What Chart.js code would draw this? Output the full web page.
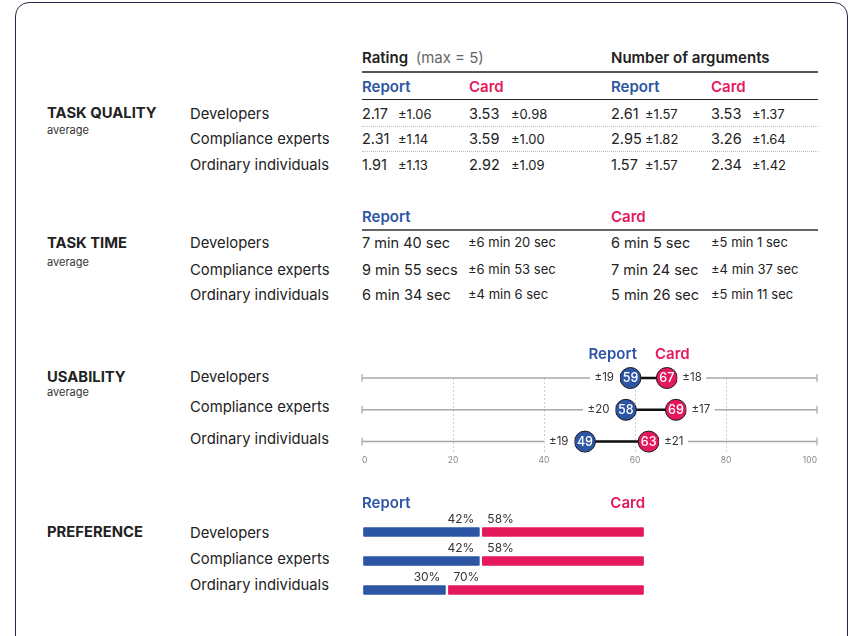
<!DOCTYPE html>
<html>
<head>
<meta charset="utf-8">
<script src="https://cdn.jsdelivr.net/npm/chart.js@4.4.0/dist/chart.umd.min.js"></script>
<style>
  body { margin: 0; width: 853px; height: 636px; overflow: hidden; background: #fff;
         font-family: Inter, "Noto Sans", sans-serif; color: #222; position: relative; }
  .frame { position: absolute; left: 15px; top: 2px; width: 833px; height: 660px;
           border: 1.5px solid #222b4a; border-radius: 14px; box-sizing: border-box; }
  .t { position: absolute; white-space: nowrap; line-height: 1; transform: translateY(-50%); }
  .r { transform: translate(-100%, -50%); }
  .sec { font-weight: 700; font-size: 14.8px; }
  .sub { font-size: 11px; color: #333; }
  .grp { font-size: 14.8px; }
  .val { font-size: 14.5px; }
  .sd { font-size: 13px; }
  .head { font-size: 15px; font-weight: 600; }
  .blue { color: #2c56a4; font-weight: 600; font-size: 15px; }
  .red { color: #e3195b; font-weight: 600; font-size: 15px; }
  .rule { position: absolute; left: 362px; width: 456px; }
  canvas { position: absolute; }
</style>
</head>
<body>
<div class="frame"></div>
<canvas id="usability" width="500" height="145" style="left:340px;top:330px"></canvas>
<canvas id="preference" width="330" height="100" style="left:340px;top:510px"></canvas>
<script>
const BLUE = '#2c56a4';
const RED = '#e3195b';

const groups = ['Developers', 'Compliance experts', 'Ordinary individuals'];

const ratingReport = [2.17, 2.31, 1.91];
const ratingReportSd = [1.06, 1.14, 1.13];
const ratingCard = [3.53, 3.59, 2.92];
const ratingCardSd = [0.98, 1.00, 1.09];

const argsReport = [2.61, 2.95, 1.57];
const argsReportSd = [1.57, 1.82, 1.57];
const argsCard = [3.53, 3.26, 2.34];
const argsCardSd = [1.37, 1.64, 1.42];

const timeReport = ['7 min 40 sec', '9 min 55 secs', '6 min 34 sec'];
const timeReportSd = ['6 min 20 sec', '6 min 53 sec', '4 min 6 sec'];
const timeCard = ['6 min 5 sec', '7 min 24 sec', '5 min 26 sec'];
const timeCardSd = ['5 min 1 sec', '4 min 37 sec', '5 min 11 sec'];

const usabilityReport = [59, 58, 49];
const usabilityReportSd = [19, 20, 19];
const usabilityCard = [67, 69, 63];
const usabilityCardSd = [18, 17, 21];
const usabilityTicks = [0, 20, 40, 60, 80, 100];

const prefReport = [42, 42, 30];
const prefCard = [58, 58, 70];

function put(html, x, y, cls, right) {
    const d = document.createElement('div');
    d.className = 't ' + cls + (right ? ' r' : '');
    d.style.left = x + 'px';
    d.style.top = y + 'px';
    d.innerHTML = html;
    document.body.appendChild(d);
}

function rule(y, h, style) {
    const d = document.createElement('div');
    d.className = 'rule';
    d.style.top = y + 'px';
    d.style.borderTop = h + 'px ' + style;
    document.body.appendChild(d);
}

// section titles
put('TASK QUALITY', 47, 113, 'sec');
put('average', 47, 130, 'sub');
put('TASK TIME', 47, 243, 'sec');
put('average', 47, 262, 'sub');
put('USABILITY', 47, 377, 'sec');
put('average', 47, 392, 'sub');
put('PREFERENCE', 47, 532, 'sec');

// group labels
const qualityRows = [114, 139, 165];
const timeRows = [243, 270, 295];
const usabilityRows = [377, 407, 439];
const prefRows = [533, 559, 585];
[qualityRows, timeRows, usabilityRows, prefRows].forEach(rows => {
    groups.forEach((g, i) => put(g, 190, rows[i], 'grp'));
});

// task quality table
put('Rating&nbsp; <span style="font-weight:400;color:#666">(max = 5)</span>', 362, 57, 'head');
put('Number of arguments', 611, 57, 'head');
rule(71, 2, 'solid #555');
put('Report', 362, 86, 'blue');
put('Card', 469, 86, 'red');
put('Report', 611, 86, 'blue');
put('Card', 711, 86, 'red');
rule(99, 1.5, 'solid #222');
rule(125.5, 1, 'dotted #bbb');
rule(151, 1, 'dotted #bbb');
groups.forEach((g, i) => {
    const y = qualityRows[i];
    put(ratingReport[i].toFixed(2), 362, y, 'val');
    put('±' + ratingReportSd[i].toFixed(2), 398, y, 'sd');
    put(ratingCard[i].toFixed(2), 469, y, 'val');
    put('±' + ratingCardSd[i].toFixed(2), 511, y, 'sd');
    put(argsReport[i].toFixed(2), 611, y, 'val');
    put('±' + argsReportSd[i].toFixed(2), 645, y, 'sd');
    put(argsCard[i].toFixed(2), 711, y, 'val');
    put('±' + argsCardSd[i].toFixed(2), 752, y, 'sd');
});

// task time table
put('Report', 362, 216, 'blue');
put('Card', 611, 216, 'red');
rule(229, 2, 'solid #666');
groups.forEach((g, i) => {
    const y = timeRows[i];
    put(timeReport[i], 362, y, 'val');
    put('±' + timeReportSd[i], 468, y - 1, 'sd');
    put(timeCard[i], 611, y, 'val');
    put('±' + timeCardSd[i], 711, y - 1, 'sd');
});

// usability + preference headers
put('Report', 637, 353, 'blue', true);
put('Card', 655, 353, 'red');
put('Report', 362, 502, 'blue');
put('Card', 645, 502, 'red', true);

// usability dumbbell chart
const R = 10.5;
const dumbbellLabels = {
    id: 'dumbbellLabels',
    afterDatasetsDraw(chart) {
        const ctx = chart.ctx;
        const rep = chart.getDatasetMeta(0).data;
        const card = chart.getDatasetMeta(1).data;
        ctx.save();
        ctx.textBaseline = 'middle';
        groups.forEach((g, i) => {
            ctx.font = '400 11.5px Inter';
            // report sd on the left
            let txt = '±' + usabilityReportSd[i];
            let w = ctx.measureText(txt).width;
            let right = rep[i].x - R - 6;
            ctx.fillStyle = '#fff';
            ctx.fillRect(right - w - 4.5, rep[i].y - 4, w + 4.5 + 6, 8);
            ctx.fillStyle = '#333';
            ctx.textAlign = 'right';
            ctx.fillText(txt, right, rep[i].y);
            // card sd on the right
            txt = '±' + usabilityCardSd[i];
            w = ctx.measureText(txt).width;
            let left = card[i].x + R + 5;
            ctx.fillStyle = '#fff';
            ctx.fillRect(left - 5, card[i].y - 4, w + 5 + 4.5, 8);
            ctx.fillStyle = '#333';
            ctx.textAlign = 'left';
            ctx.fillText(txt, left, card[i].y);
            // values in the circles
            ctx.font = '500 12.5px Inter';
            ctx.textAlign = 'center';
            ctx.fillStyle = '#fff';
            ctx.fillText(String(usabilityReport[i]), rep[i].x, rep[i].y + 0.5);
            ctx.fillText(String(usabilityCard[i]), card[i].x, card[i].y + 0.5);
        });
        ctx.restore();
    }
};

const usabilityDatasets = [
    { type: 'scatter', data: usabilityReport.map((v, i) => ({ x: v, y: i })), backgroundColor: BLUE,
      borderColor: '#1c1c1c', borderWidth: 1, pointRadius: R, pointHoverRadius: R, order: 0, clip: false },
    { type: 'scatter', data: usabilityCard.map((v, i) => ({ x: v, y: i })), backgroundColor: RED,
      borderColor: '#1c1c1c', borderWidth: 1, pointRadius: R, pointHoverRadius: R, order: 0, clip: false }
];
groups.forEach((g, i) => {
    usabilityDatasets.push({
        data: [{ x: usabilityReport[i], y: i }, { x: usabilityCard[i], y: i }],
        borderColor: '#111', borderWidth: 2.5, pointRadius: 0, order: 2, clip: false
    });
    usabilityDatasets.push({
        data: [{ x: usabilityTicks[0], y: i }, { x: usabilityTicks[usabilityTicks.length - 1], y: i }],
        borderColor: '#a8a8a8', borderWidth: 1.5, pointStyle: 'line', rotation: 90, pointRadius: 4,
        pointBorderColor: '#a8a8a8', pointBorderWidth: 1.2, order: 3, clip: false
    });
});

new Chart(document.getElementById('usability'), {
    type: 'line',
    data: { datasets: usabilityDatasets },
    options: {
        responsive: false,
        animation: false,
        events: [],
        layout: { padding: { left: 22, right: 23, top: 48, bottom: 5 } },
        elements: { line: { tension: 0 } },
        scales: {
            x: {
                type: 'linear', min: 0, max: 100,
                afterBuildTicks: s => { s.ticks = usabilityTicks.map(v => ({ value: v })); },
                ticks: { font: { size: 8.5, family: 'Inter' }, color: '#888', padding: 4, align: 'inner' },
                grid: {
                    drawTicks: false, lineWidth: 1,
                    color: c => (c.tick && (c.tick.value === 0 || c.tick.value === 100)) ? 'rgba(0,0,0,0)' : '#cfcfcf'
                },
                border: { display: false, dash: [2, 2] }
            },
            y: { type: 'linear', display: false, reverse: true, min: 0, max: 2.32 }
        },
        plugins: { legend: { display: false }, tooltip: { enabled: false } }
    },
    plugins: [dumbbellLabels]
});

// preference stacked bars
const prefLabels = {
    id: 'prefLabels',
    afterDatasetsDraw(chart) {
        const ctx = chart.ctx;
        const rep = chart.getDatasetMeta(0).data;
        const card = chart.getDatasetMeta(1).data;
        ctx.save();
        ctx.font = '400 12px Inter';
        ctx.fillStyle = '#333';
        ctx.textBaseline = 'middle';
        groups.forEach((g, i) => {
            ctx.textAlign = 'right';
            ctx.fillText(prefReport[i] + '%', rep[i].x - 6.5, rep[i].y - 12.5);
            ctx.textAlign = 'left';
            ctx.fillText(prefCard[i] + '%', card[i].base + 6.5, card[i].y - 12.5);
        });
        ctx.restore();
    }
};

const corners = { topLeft: 2.5, topRight: 2.5, bottomLeft: 2.5, bottomRight: 2.5 };
new Chart(document.getElementById('preference'), {
    type: 'bar',
    data: {
        labels: groups,
        datasets: [
            { data: prefReport, backgroundColor: BLUE, borderColor: '#fff', borderWidth: 1.5,
              borderSkipped: false, borderRadius: corners, barThickness: 12 },
            { data: prefCard, backgroundColor: RED, borderColor: '#fff', borderWidth: 1.5,
              borderSkipped: false, borderRadius: corners, barThickness: 12 }
        ]
    },
    options: {
        indexAxis: 'y',
        responsive: false,
        animation: false,
        events: [],
        layout: { padding: { left: 22, right: 25, top: 7.5, bottom: 5.5 } },
        scales: {
            x: { stacked: true, min: 0, max: 100, display: false },
            y: { stacked: true, display: false }
        },
        plugins: { legend: { display: false }, tooltip: { enabled: false } }
    },
    plugins: [prefLabels]
});
</script>
</body>
</html>
